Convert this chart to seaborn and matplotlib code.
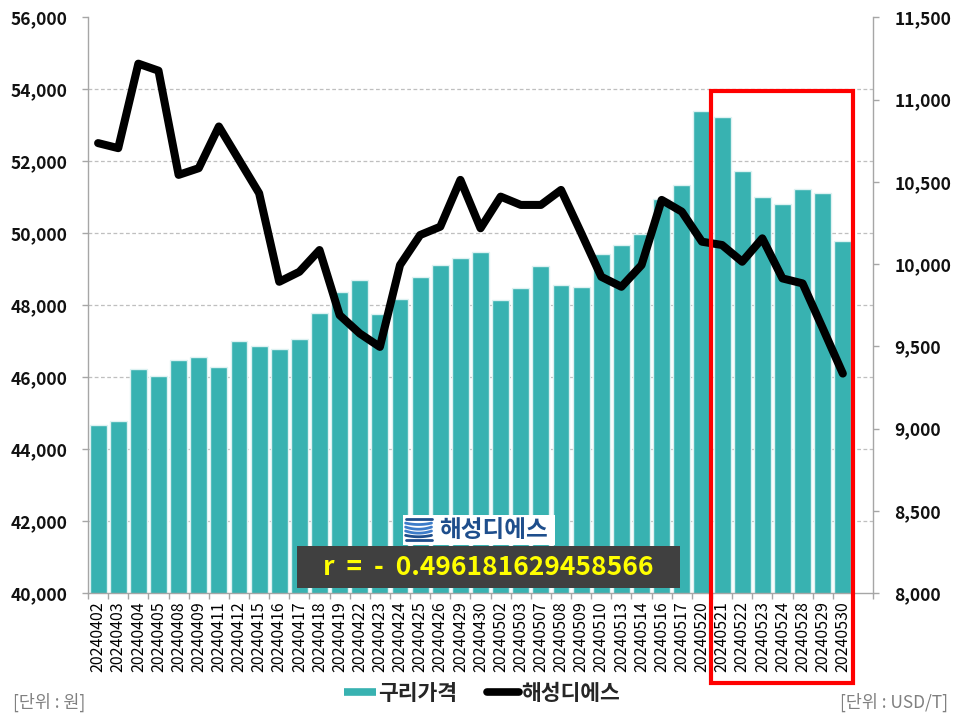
import numpy as np
import pandas as pd
import seaborn as sns
import matplotlib.pyplot as plt
from matplotlib.lines import Line2D
from matplotlib.patches import Rectangle
from matplotlib.ticker import FuncFormatter, FixedLocator

dates = ['20240402', '20240403', '20240404', '20240405', '20240408', '20240409',
         '20240411', '20240412', '20240415', '20240416', '20240417', '20240418',
         '20240419', '20240422', '20240423', '20240424', '20240425', '20240426',
         '20240429', '20240430', '20240502', '20240503', '20240507', '20240508',
         '20240509', '20240510', '20240513', '20240514', '20240516', '20240517',
         '20240520', '20240521', '20240522', '20240523', '20240524', '20240528',
         '20240529', '20240530']

# 구리가격 (USD/T) - 오른쪽 축
copper = [9019, 9045, 9364, 9318, 9419, 9435, 9374, 9533, 9502, 9486,
          9547, 9703, 9831, 9900, 9695, 9785, 9919, 9992, 10038, 10071,
          9780, 9852, 9989, 9872, 9858, 10061, 10117, 10183, 10398, 10479,
          10928, 10893, 10568, 10406, 10363, 10455, 10429, 10142]

# 해성디에스 주가 (원) - 왼쪽 축
stock = [52503, 52363, 54711, 54516, 51620, 51806, 52965, 52038, 51110, 48649,
         48927, 49531, 47722, 47212, 46839, 49114, 49949, 50180, 51481, 50136,
         51016, 50785, 50785, 51202, 50005, 48788, 48510, 49114, 50924, 50598,
         49763, 49671, 49206, 49857, 48743, 48604, 47360, 46098]

r_text = 'r  =  -  0.496181629458566'

df = pd.DataFrame({'날짜': dates, '구리가격': copper, '해성디에스': stock})

sns.set_style('white')
plt.rcParams['font.family'] = ['Noto Sans CJK KR', 'DejaVu Sans']

teal = '#38B2B1'
gray = '#A6A6A6'

fig = plt.figure(figsize=(9.6, 7.2), dpi=100)
ax_bar = fig.add_axes([0.0917, 0.1764, 0.8177, 0.7996])
ax_line = ax_bar.twinx()

# 막대 (구리가격)
sns.barplot(data=df, x='날짜', y='구리가격', color=teal, saturation=1,
            width=0.84, edgecolor='#DDF2F2', linewidth=1, ax=ax_bar)

# 선 (해성디에스)
sns.lineplot(x=np.arange(len(df)), y=df['해성디에스'], color='black',
             linewidth=5.8, ax=ax_line)
for ln in ax_line.lines:
    ln.set_solid_capstyle('round')
    ln.set_solid_joinstyle('round')

ax_bar.set_xlim(-0.5, len(df) + 0.5)
ax_bar.set_ylim(8000, 11500)
ax_line.set_ylim(40000, 56000)

for a in (ax_bar, ax_line):
    a.set_xlabel('')
    a.set_ylabel('')

# 축 위치: 막대 -> 오른쪽, 선 -> 왼쪽
ax_bar.yaxis.tick_right()
ax_line.yaxis.tick_left()

fmt = FuncFormatter(lambda v, p: f'{int(v):,}')
ax_bar.set_yticks(np.arange(8000, 11501, 500))
ax_bar.yaxis.set_major_formatter(fmt)
ax_line.set_yticks(np.arange(40000, 56001, 2000))
ax_line.yaxis.set_major_formatter(fmt)

# 그리드 (왼쪽 축 눈금 위치, 막대 뒤)
ax_bar.yaxis.set_minor_locator(FixedLocator(np.linspace(8000, 11500, 9)))
ax_bar.grid(which='minor', axis='y', color='#BFBFBF', linestyle=(0, (3, 2)), linewidth=0.9)
ax_bar.grid(which='major', axis='y', visible=False)
ax_bar.set_axisbelow(True)

# x 눈금
ax_bar.set_xticks(np.arange(len(df)))
ax_bar.set_xticklabels(dates, rotation=90)
ax_bar.xaxis.set_minor_locator(FixedLocator(np.arange(-0.5, len(df) + 1, 1)))
ax_bar.tick_params(axis='x', which='major', length=0, labelsize=11.5, pad=6, labelcolor='black')
ax_bar.tick_params(axis='x', which='minor', length=4.5, color=gray, width=1, bottom=True)
ax_bar.tick_params(axis='y', which='major', right=True, length=4.5, color=gray, width=1,
                   labelsize=12.5, pad=11, labelcolor='#111111')
ax_bar.tick_params(axis='y', which='minor', length=0)
ax_line.tick_params(axis='y', left=True, length=4.5, color=gray, width=1,
                    labelsize=12.5, pad=10.5, labelcolor='#111111')
for lab in ax_bar.get_yticklabels() + ax_line.get_yticklabels():
    lab.set_fontweight('bold')

ax_bar.spines['top'].set_visible(False)
for s in ['left', 'right', 'bottom']:
    ax_bar.spines[s].set_color(gray)
    ax_bar.spines[s].set_linewidth(1)
for s in ax_line.spines.values():
    s.set_visible(False)

# 로고
fig.add_artist(Rectangle((0.4198, 0.2431), 0.1583, 0.0416, transform=fig.transFigure,
                         facecolor='white', edgecolor='none', zorder=5))
icon_x = np.linspace(0.4225, 0.4495, 30)
for yc, col, bend in [(0.2795, '#1E4E8C', 0.0), (0.2735, '#3D7CC9', 0.002),
                      (0.2680, '#3D7CC9', 0.003), (0.2625, '#3D7CC9', 0.003),
                      (0.2565, '#1E4E8C', 0.002), (0.2505, '#1E4E8C', 0.0)]:
    t = (icon_x - icon_x.mean()) / (icon_x[-1] - icon_x[0]) * 2
    fig.add_artist(Line2D(icon_x, yc - bend * (1 - t ** 2), transform=fig.transFigure,
                          color=col, linewidth=2.0, zorder=6))
fig.text(0.5135, 0.2645, '해성디에스', ha='center', va='center', fontsize=17,
         color='#1E4E8C', fontweight='bold', zorder=6)

# 상관계수 상자
fig.add_artist(Rectangle((0.3094, 0.1833), 0.3989, 0.0584, transform=fig.transFigure,
                         facecolor='#404040', edgecolor='none', zorder=5))
fig.text(0.509, 0.2118, r_text, ha='center', va='center', fontsize=19,
         color='#FFFF00', fontweight='bold', zorder=6)

# 빨간 강조 상자
fig.add_artist(Rectangle((0.7411, 0.0514), 0.1474, 0.8222, transform=fig.transFigure,
                         fill=False, edgecolor='#FF0000', linewidth=3, zorder=7))

# 범례
handles = [Line2D([], [], color=teal, linewidth=5.5, solid_capstyle='butt'),
           Line2D([], [], color='black', linewidth=5.5, solid_capstyle='round')]
fig.legend(handles, ['구리가격', '해성디에스'], loc='center', bbox_to_anchor=(0.502, 0.037),
           ncol=2, frameon=False, handlelength=1.5, handletextpad=0.1, columnspacing=1.4,
           prop={'size': 15.5, 'weight': 'bold'})

fig.text(0.0135, 0.024, '[단위 : 원]', ha='left', va='center', fontsize=12.5, color='#808080')
fig.text(0.988, 0.024, '[단위 : USD/T]', ha='right', va='center', fontsize=12.5, color='#808080')

fig.savefig('out.png', dpi=100)
